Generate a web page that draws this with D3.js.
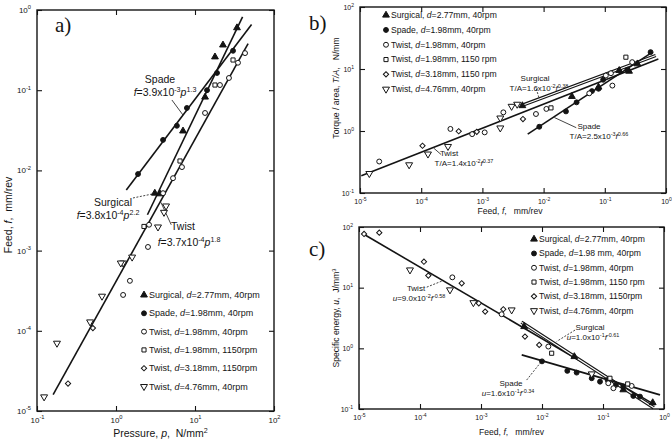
<!DOCTYPE html>
<html>
<head>
<meta charset="utf-8">
<script src="https://cdn.jsdelivr.net/npm/d3@7"></script>
<style>
body{margin:0;background:#fff}
text{font-family:"Liberation Sans",Arial,sans-serif;fill:#141414;white-space:pre}
</style>
</head>
<body>
<script>
// ---- panel a: feed vs pressure ----
var aSurgical = [[3.1,0.0052],[3.6,0.0051],[7.05,0.031],[13.4,0.082],[17.9,0.26],[22.6,0.366],[34,0.60]];
var aSpade = [[1.9,0.0090],[3.94,0.024],[5.9,0.036],[7.9,0.060],[14.2,0.10],[19,0.164],[30.3,0.31]];
var aTwistC = [[43,0.29],[35,0.22],[26.9,0.142],[20.7,0.116],[13.4,0.052],[6.84,0.011],[5.27,0.008],[3.94,0.0052],[2.62,0.0021],[2.54,0.00111],[1.5,0.00042],[1.23,0.00028]];
var aTwistS = [[30.3,0.238],[17.9,0.116],[6.46,0.0131],[2.26,0.0020]];
var aTwistD = [[0.51,1.08e-4],[0.247,2.2e-5]];
var aTwistT = [[4.3,0.0036],[4.05,0.0030],[3.4,0.00197],[1.6,0.00083],[1.23,0.0007],[1.15,0.0007],[0.665,0.00027],[0.47,1.29e-4],[0.179,7e-5],[0.123,1.5e-5]];
var aSpadeLine = [[1.35,0.0057],[52,0.66]];
var aSurgicalLine = [[2.5,0.0028],[40,0.82]];
var aTwistLine = [[0.16,1.6e-5],[47,0.38]];
var aLeaders = [[[5.1,0.0755],[7.05,0.049]],[[1.64,0.00453],[3.3,0.00522]],[[5.0,0.0021],[3.7,0.0040]]];

// ---- panel b: torque/area vs feed ----
var bSurgical = [[4.5e-3,2.56],[0.029,3.6],[0.079,5.1],[0.172,9.46],[0.249,9.2],[0.341,12.1]];
var bSpade = [[8.5e-3,1.17],[0.0232,2.07],[0.0346,2.9],[0.0617,4.4],[0.079,4.8],[0.094,6.7],[0.234,9.7],[0.56,18.7]];
var bTwistC = [[2.06e-5,0.322],[3.0e-4,1.08],[6.8e-4,0.89],[1.09e-3,0.95],[2.2e-3,2.0],[7.5e-3,1.88],[0.0111,2.27],[0.0557,4.05],[0.104,7.85],[0.126,8.55],[0.133,5.4],[0.28,12.9]];
var bTwistS = [[0.0132,2.36],[0.221,15.5]];
var bTwistD = [[1.05e-4,0.578],[4.1e-4,0.99],[8.1e-4,0.97],[4.6e-3,1.56]];
var bTwistT = [[1.42e-5,0.206],[6.35e-5,0.285],[1.29e-4,0.425],[2.74e-4,0.563],[1.96e-3,1.12],[1.96e-3,1.62],[3.0e-3,2.5],[3.7e-3,2.7]];
var bTwistLine = [[1.05e-5,0.19],[0.75,14.5]];
var bSurgicalLine = [[4.3e-3,2.56],[0.68,16.5]];
var bSpadeLine = [[5.5e-3,0.89],[0.6,18.7]];
var bLeaders = [[[1.6e-4,0.53],[2.1e-4,0.42]],[[7.6e-3,4.8],[8.5e-3,3.3]],[[0.015,1.65],[0.0342,1.13]]];

// ---- panel c: specific energy vs feed ----
var cSurgical = [[5.1e-3,2.28],[0.0339,0.73],[0.215,0.207],[0.653,0.127]];
var cSpade = [[0.01,0.61],[0.026,0.425],[0.037,0.398],[0.0653,0.321],[0.0893,0.282],[0.119,0.301],[0.163,0.25],[0.215,0.234],[0.314,0.164],[0.404,0.16]];
var cTwistC = [[3.39e-4,14.8],[2.18e-3,3.65],[0.0127,1.07],[0.122,0.266],[0.148,0.22],[0.295,0.24]];
var cTwistS = [[0.0144,0.83],[0.130,0.321],[0.254,0.259]];
var cTwistD = [[1.21e-5,76.8],[2.15e-5,80.6],[1.16e-4,26.8],[1.37e-4,15.8],[4.83e-4,11.8],[9.2e-4,5.53],[1.17e-3,4.03],[2.32e-3,4.41],[5.26e-3,1.56],[9.0e-3,1.14]];
var cTwistT = [[6.85e-5,19.6],[3.1e-4,9.2],[7.5e-4,5.66],[3.18e-3,4.30],[0.0653,0.379]];
var cTwistLine = [[1.2e-5,76],[0.71,0.117]];
var cSurgicalLine = [[4.6e-3,2.7],[0.68,0.105]];
var cSpadeLine = [[4.65e-3,0.78],[0.86,0.171]];
var cLeaders = [[[1.29e-4,10.2],[2.4e-4,13.1]],[[0.0348,2.0],[0.0174,1.3]],[[5.6e-3,0.30],[9.3e-3,0.57]]];

var legendA = ["Surgical, *d*=2.77mm, 40rpm","Spade, *d*=1.98mm, 40rpm","Twist, *d*=1.98mm, 40rpm","Twist, *d*=1.98mm, 1150rpm","Twist, *d*=3.18mm, 1150rpm","Twist, *d*=4.76mm, 40rpm"];
var legendB = ["Surgical, *d*=2.77mm, 40rpm","Spade, *d*=1.98mm, 40rpm","Twist, *d*=1.98mm, 40rpm","Twist, *d*=1.98mm, 1150 rpm","Twist, *d*=3.18mm, 1150 rpm","Twist, *d*=4.76mm, 40rpm"];
var legendC = ["Surgical, *d*=2.77mm, 40rpm","Spade, *d*=1.98 mm, 40rpm","Twist, *d*=1.98mm, 40rpm","Twist, *d*=1.98mm, 1150 rpm","Twist, *d*=3.18mm, 1150rpm","Twist, *d*=4.76mm, 40rpm"];

var ink = "#141414";
var svg = d3.select("body").append("svg").attr("width",672).attr("height",439);

// marker styles, in legend order
var markers = [
  {type:d3.symbolTriangle, size:20, fill:true, rot:0},
  {type:d3.symbolCircle, size:19, fill:true, rot:0},
  {type:d3.symbolCircle, size:19, fill:false, rot:0},
  {type:d3.symbolSquare, size:17, fill:false, rot:0},
  {type:d3.symbolSquare, size:14, fill:false, rot:45},
  {type:d3.symbolTriangle, size:21, fill:false, rot:180}
];

// text with *italic* and ^superscript^ runs
function rich(g, x, y, str, fs, anchor) {
  var t = g.append("text").attr("x",x).attr("y",y).style("font-size",fs+"px")
    .attr("text-anchor",anchor||"start");
  var sup=false, it=false, cur=0, buf="";
  function flush(){
    if(!buf) return;
    var target = sup ? -fs*0.4 : 0;
    var ts = t.append("tspan").attr("dy",target-cur).text(buf);
    if(sup) ts.style("font-size",(fs*0.68)+"px");
    if(it) ts.style("font-style","italic");
    cur = target; buf="";
  }
  for (var i=0;i<str.length;i++){
    var c=str[i];
    if(c=="^"){flush();sup=!sup;}
    else if(c=="*"){flush();it=!it;}
    else buf+=c;
  }
  flush();
  return t;
}

function powLabel(sel, fs) {
  sel.each(function(d){
    var e = Math.round(Math.log10(d));
    var t = d3.select(this).text(null).style("font-size",fs+"px");
    t.append("tspan").text("10");
    t.append("tspan").attr("dy",-fs*0.45).style("font-size",(fs*0.72)+"px").text(e);
  });
}

function drawMarker(g, x, y, m) {
  g.append("path").attr("d", d3.symbol().type(m.type).size(m.size)())
    .attr("transform","translate("+x+","+y+") rotate("+m.rot+")")
    .attr("fill", m.fill ? ink : "#fff").attr("stroke", ink).attr("stroke-width",1);
}

function panel(p) {
  var x = d3.scaleLog().domain(p.xd).range(p.xr);
  var y = d3.scaleLog().domain(p.yd).range(p.yr);
  var g = svg.append("g");
  var xt = p.xd.map(Math.log10), yt = p.yd.map(Math.log10);
  var xv = d3.range(xt[0], xt[1]+1).map(function(e){return Math.pow(10,e);});
  var yv = d3.range(yt[0], yt[1]+1).map(function(e){return Math.pow(10,e);});

  var ax = g.append("g").attr("transform","translate(0,"+p.yr[0]+")")
    .call(d3.axisBottom(x).tickValues(xv).tickSizeInner(-5).tickSizeOuter(0).tickPadding(p.tp));
  var ay = g.append("g").attr("transform","translate("+p.xr[0]+",0)")
    .call(d3.axisLeft(y).tickValues(yv).tickSizeInner(-5).tickSizeOuter(0).tickPadding(p.tp));
  g.append("g").attr("transform","translate(0,"+p.yr[1]+")")
    .call(d3.axisTop(x).tickValues(xv).tickSizeInner(-5).tickSizeOuter(0).tickFormat(""));
  g.append("g").attr("transform","translate("+p.xr[1]+",0)")
    .call(d3.axisRight(y).tickValues(yv).tickSizeInner(-5).tickSizeOuter(0).tickFormat(""));
  g.selectAll(".domain").remove();
  g.selectAll(".tick line").attr("stroke",ink).attr("stroke-width",1.1);
  powLabel(ax.selectAll(".tick text").attr("font-family",null), p.fs);
  powLabel(ay.selectAll(".tick text").attr("font-family",null), p.fs);

  g.append("rect").attr("x",p.xr[0]).attr("y",p.yr[1])
    .attr("width",p.xr[1]-p.xr[0]).attr("height",p.yr[0]-p.yr[1])
    .attr("fill","none").attr("stroke",ink).attr("stroke-width",1.4);

  var line = d3.line().x(function(d){return x(d[0]);}).y(function(d){return y(d[1]);});
  p.lines.forEach(function(l){
    g.append("path").attr("d",line(l.d)).attr("fill","none").attr("stroke",ink)
      .attr("stroke-width", l.dbl ? 3.4 : 1.6);
    if (l.dbl) g.append("path").attr("d",line(l.d)).attr("fill","none")
      .attr("stroke","#fff").attr("stroke-width",1.2);
  });
  p.leaders.forEach(function(l, i){
    g.append("path").attr("d",line(l)).attr("fill","none").attr("stroke",ink)
      .attr("stroke-width",0.8).attr("stroke-dasharray", p.dash[i] ? "2,1.5" : null);
  });
  p.series.forEach(function(s, i){
    s.forEach(function(d){ drawMarker(g, x(d[0]), y(d[1]), markers[i]); });
  });

  p.legend.forEach(function(txt, i){
    var ly = p.lg[1] + i*p.lg[2];
    drawMarker(g, p.lg[0], ly-p.lg[3]*0.33, markers[i]);
    rich(g, p.lg[0]+5, ly, txt, p.lg[3]);
  });
  p.notes.forEach(function(n){ rich(g, n[0], n[1], n[2], n[3], "middle"); });

  rich(g, (p.xr[0]+p.xr[1])/2 + p.xo, p.xb, p.xtitle, p.tfs, "middle");
  rich(g, 0, 0, p.ytitle, p.tfs, "middle")
    .attr("transform","translate("+p.yx+","+p.yc+") rotate(-90)");
  g.append("text").attr("x",p.tag[0]).attr("y",p.tag[1]).text(p.tag[2])
    .style("font-family","'Liberation Serif','Times New Roman',serif").style("font-size","21px");
}

panel({
  xd:[0.1,100], xr:[37,274], yd:[1e-5,1], yr:[411,10], fs:8, tp:6,
  lines:[{d:aSpadeLine},{d:aSurgicalLine},{d:aTwistLine}],
  leaders:aLeaders, dash:[false,true,false],
  series:[aSurgical,aSpade,aTwistC,aTwistS,aTwistD,aTwistT],
  legend:legendA, lg:[144,298,18.3,9],
  notes:[[160,83,"Spade",10.5],[165,96,"*f*=3.9x10^-3^*p*^1.3^",10.5],
         [113,206,"Surgical",10.5],[108,219,"*f*=3.8x10^-4^*p*^2.2^",10.5],
         [183,230,"Twist",10.5],[189,246,"*f*=3.7x10^-4^*p*^1.8^",10.5]],
  xtitle:"Pressure, *p*,  N/mm^2^", xb:437, xo:5, tfs:10.5,
  ytitle:"Feed, *f*,  mm/rev", yx:12, yc:215,
  tag:[55,32,"a)"]
});

panel({
  xd:[1e-5,1], xr:[360,666], yd:[0.1,100], yr:[193,7], fs:7, tp:6,
  lines:[{d:bTwistLine},{d:bSurgicalLine,dbl:true},{d:bSpadeLine}],
  leaders:bLeaders, dash:[false,true,false],
  series:[bSurgical,bSpade,bTwistC,bTwistS,bTwistD,bTwistT],
  legend:legendB, lg:[386,18,14.8,8.6],
  notes:[[535,81,"Surgical",8],[539,91,"T/A=1.6x10^-2^*f*^0.38^",8],
         [589,129,"Spade",8],[599,139,"T/A=2.5x10^-3^*f*^0.66^",8],
         [449,156,"Twist",8],[464,166,"T/A=1.4x10^-2^*f*^0.37^",8]],
  xtitle:"Feed, *f*,   mm/rev", xb:214, xo:-3, tfs:8.6,
  ytitle:"Torque / area, *T/A*,   N/mm", yx:339, yc:88,
  tag:[309,30,"b)"]
});

panel({
  xd:[1e-5,1], xr:[359,664], yd:[0.1,100], yr:[409,227], fs:7, tp:6,
  lines:[{d:cTwistLine},{d:cSurgicalLine,dbl:true},{d:cSpadeLine}],
  leaders:cLeaders, dash:[true,true,true],
  series:[cSurgical,cSpade,cTwistC,cTwistS,cTwistD,cTwistT],
  legend:legendC, lg:[534,242,14.3,8.6],
  notes:[[416,291,"Twist",8],[419,301,"*u*=9.0x10^-2^*f*^-0.58^",8],
         [590,330,"Surgical",8],[593,340,"*u*=1.0x10^-1^*f*^-0.61^",8],
         [511,386,"Spade",8],[508,396,"*u*=1.6x10^-1^*f*^-0.34^",8]],
  xtitle:"Feed, *f*,   mm/rev", xb:435, xo:0, tfs:8.6,
  ytitle:"Specific energy, *u*,  J/mm^3^", yx:339, yc:318,
  tag:[309,256,"c)"]
});
</script>
</body>
</html>
